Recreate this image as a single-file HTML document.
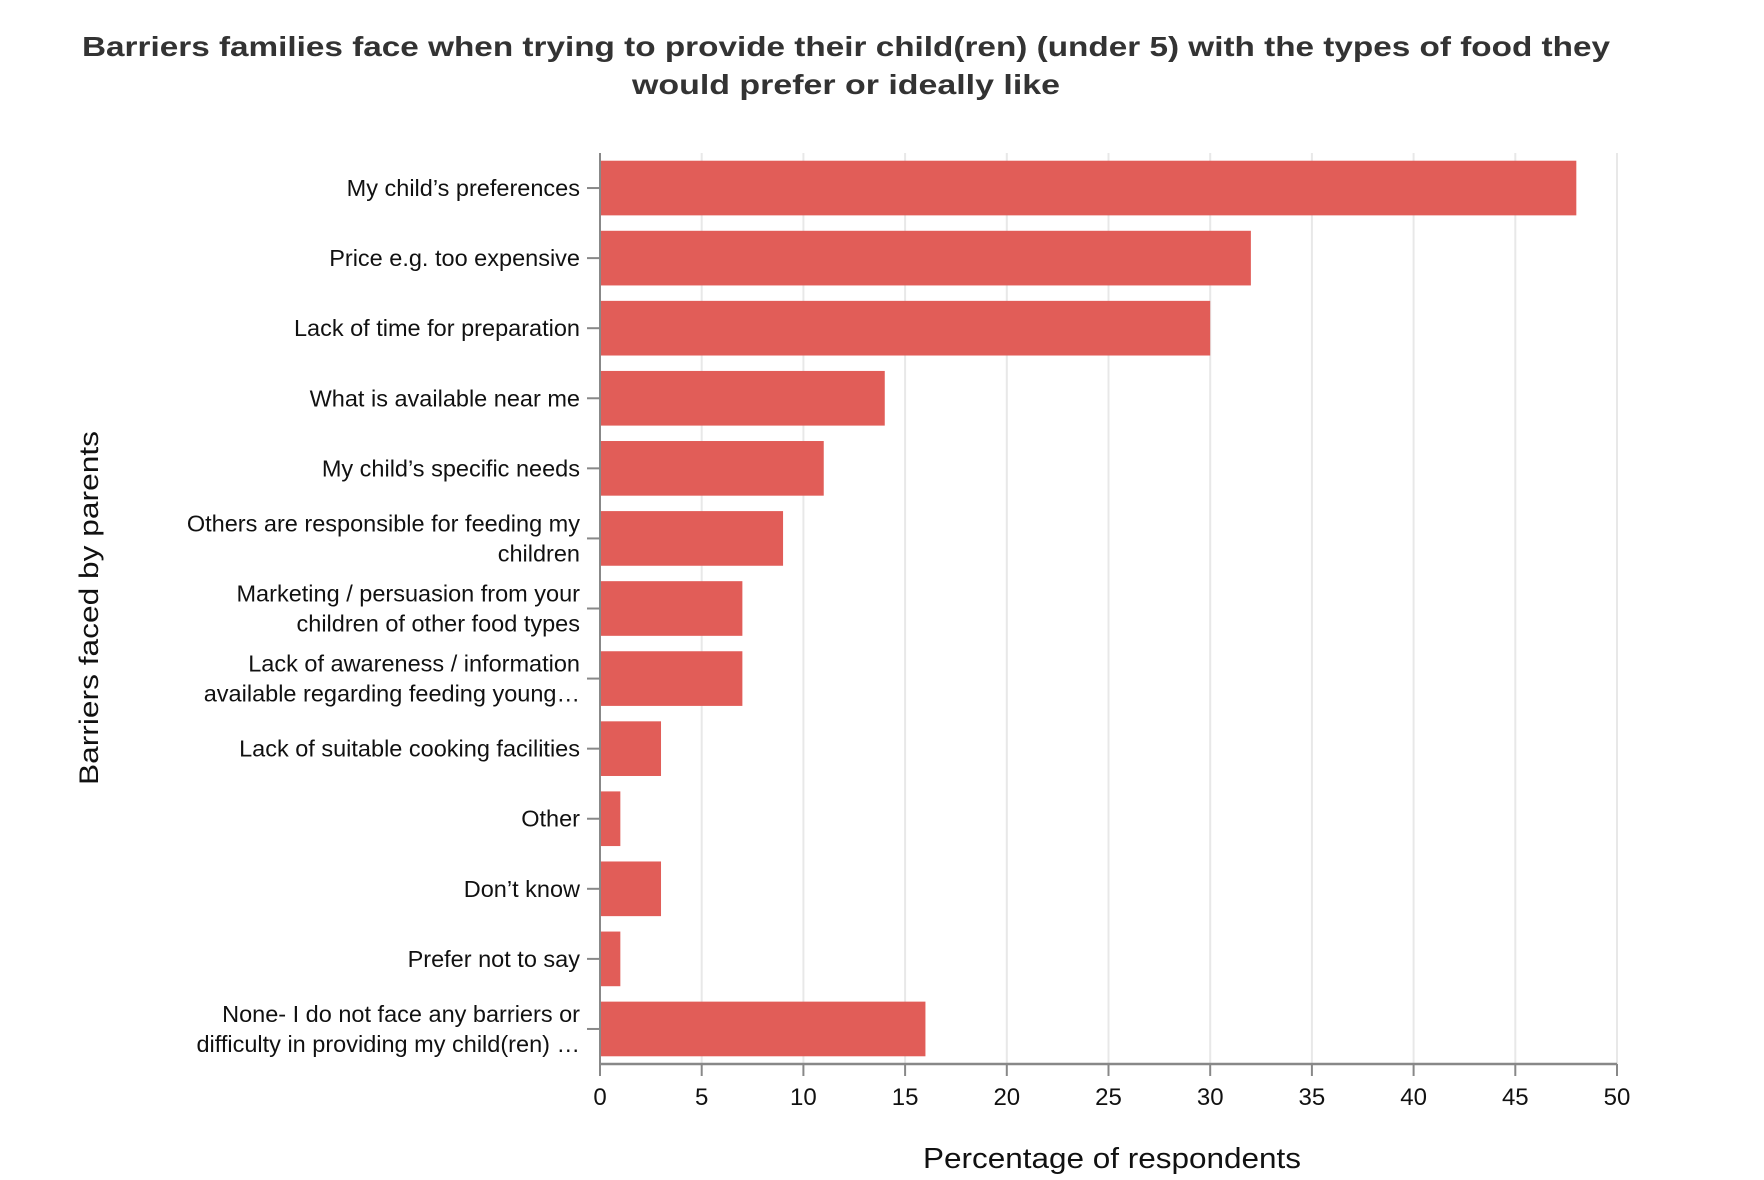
<!DOCTYPE html>
<html><head><meta charset="utf-8"><style>
html,body{margin:0;padding:0;background:#fff;}
svg{display:block;font-family:"Liberation Sans",sans-serif;}
</style></head><body>
<svg id="chart" width="1764" height="1180" viewBox="0 0 1764 1180" xmlns="http://www.w3.org/2000/svg">
<g font-weight="bold" font-size="28" fill="#333" text-anchor="middle">
<text x="846" y="56" textLength="1528" lengthAdjust="spacingAndGlyphs">Barriers families face when trying to provide their child(ren) (under 5) with the types of food they</text>
<text x="846" y="94" textLength="428" lengthAdjust="spacingAndGlyphs">would prefer or ideally like</text>
</g>
<g id="grid"></g>
<g id="bars"></g>
<g id="yaxis"></g>
<g id="xaxis"></g>
<text x="1112" y="1168" font-size="29" fill="#111" text-anchor="middle" textLength="378" lengthAdjust="spacingAndGlyphs">Percentage of respondents</text>
<text transform="translate(98,608) rotate(-90)" font-size="27" fill="#111" text-anchor="middle" textLength="354" lengthAdjust="spacingAndGlyphs">Barriers faced by parents</text>
</svg>
<script>
const categories = [
 ["My child’s preferences"],
 ["Price e.g. too expensive"],
 ["Lack of time for preparation"],
 ["What is available near me"],
 ["My child’s specific needs"],
 ["Others are responsible for feeding my","children"],
 ["Marketing / persuasion from your","children of other food types"],
 ["Lack of awareness / information","available regarding feeding young…"],
 ["Lack of suitable cooking facilities"],
 ["Other"],
 ["Don’t know"],
 ["Prefer not to say"],
 ["None- I do not face any barriers or","difficulty in providing my child(ren) …"]
];
const values = [48,32,30,14,11,9,7,7,3,1,3,1,16];
const xTicks = [0,5,10,15,20,25,30,35,40,45,50];

const NS="http://www.w3.org/2000/svg";
const X0=600, X1=1617, Y0=153, Y1=1064, XMAX=50;
const xs=v=>X0+(v/XMAX)*(X1-X0);
const band=(Y1-Y0)/categories.length;
const ys=i=>Y0+i*band;
function mk(tag,attrs,parent){const e=document.createElementNS(NS,tag);for(const k in attrs)e.setAttribute(k,attrs[k]);parent.appendChild(e);return e;}
const grid=document.getElementById('grid'),bars=document.getElementById('bars'),ya=document.getElementById('yaxis'),xa=document.getElementById('xaxis');
xTicks.forEach(t=>{
 const g=mk('line',{x1:xs(t),x2:xs(t),y1:Y0,y2:Y1,stroke:'#e8e8e8','stroke-width':2},grid);
 
 
 const tk=mk('line',{x1:xs(t),x2:xs(t),y1:Y1,y2:Y1+12,stroke:'#888','stroke-width':2},xa);
 
 
 const tl=mk('text',{x:xs(t),y:Y1+41,'font-size':24,'text-anchor':'middle',fill:'#111'},xa);
 tl.textContent=t;
 
 
});
values.forEach((v,i)=>{
 const pad=band*0.11;
 const r=mk('rect',{x:X0,y:ys(i)+pad,width:xs(v)-X0,height:band-2*pad,fill:'#e15d58'},bars);
 
 
 const cy=ys(i)+band/2;
 const tk=mk('line',{x1:X0-13,x2:X0,y1:cy,y2:cy,stroke:'#888','stroke-width':2},ya);
 
 
 const lines=categories[i];
 const lh=30, start=cy+8-(lines.length-1)*lh/2;
 lines.forEach((s,j)=>{
  const t=mk('text',{x:580,y:start+j*lh,'font-size':23.5,'text-anchor':'end',fill:'#111'},ya);
  t.textContent=s;
  
  
 });
});
const yl=mk('line',{x1:X0,x2:X0,y1:Y0,y2:Y1,stroke:'#888','stroke-width':2},ya);


const xl=mk('line',{x1:X0,x2:X1,y1:Y1,y2:Y1,stroke:'#888','stroke-width':2.5},xa);


</script>
</body></html>
